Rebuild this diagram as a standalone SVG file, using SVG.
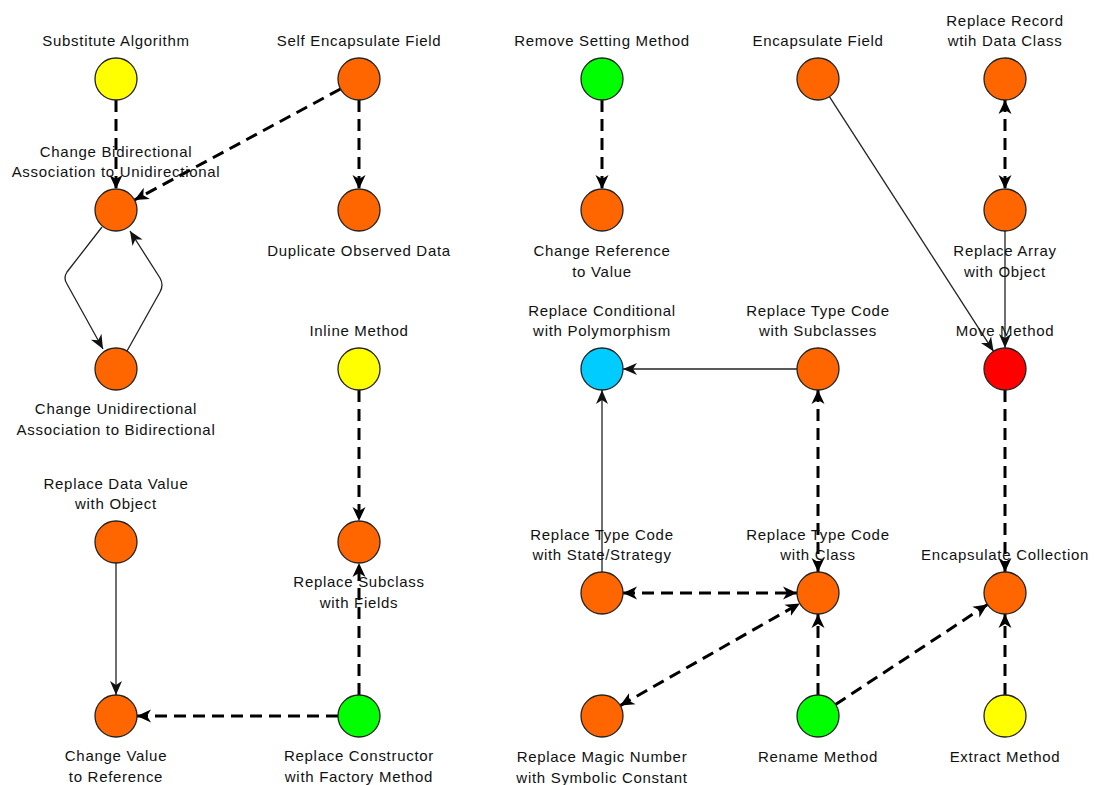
<svg xmlns="http://www.w3.org/2000/svg" width="1094" height="785" viewBox="0 0 1094 785">
  <style>
    text { font-family: "Liberation Sans", Arial, sans-serif; font-size: 15px; letter-spacing: 0.7px; fill: #111; text-anchor: middle; }
    circle { stroke: #222; stroke-width: 1.3; }
    .orange { fill: #FF6600; }
    .yellow { fill: #FFFF00; }
    .green { fill: #00FF00; }
    .blue { fill: #00CCFF; }
    .red { fill: #FF0000; }
    .dep { fill: none; stroke: #000; stroke-width: 3; stroke-dasharray: 12 7; }
    .rel { fill: none; stroke: #222; stroke-width: 1.3; }
  </style>
  <defs>
    <marker id="arrowBold" markerUnits="userSpaceOnUse" markerWidth="16" markerHeight="14" refX="14" refY="6.5" orient="auto-start-reverse" viewBox="0 0 16 13">
      <path d="M0,0 L14,6.5 L0,13 L4,6.5 z" fill="#000"/>
    </marker>
    <marker id="arrowThin" markerUnits="userSpaceOnUse" markerWidth="16" markerHeight="14" refX="14" refY="6" orient="auto-start-reverse" viewBox="0 0 16 12">
      <path d="M0,0 L14,6 L0,12 L4,6 z" fill="#111"/>
    </marker>
  </defs>

  <rect width="1094" height="785" fill="#fff"/>

  <g id="connectors">
    <!-- dashed dependencies -->
    <line class="dep" x1="116" y1="100" x2="116" y2="189" marker-end="url(#arrowBold)"/>
    <line class="dep" x1="340.5" y1="89" x2="134.5" y2="200" marker-end="url(#arrowBold)"/>
    <line class="dep" x1="359" y1="100" x2="359" y2="189" marker-end="url(#arrowBold)"/>
    <line class="dep" x1="359" y1="390" x2="359" y2="521" marker-end="url(#arrowBold)"/>
    <line class="dep" x1="359" y1="695" x2="359" y2="563" marker-end="url(#arrowBold)"/>
    <line class="dep" x1="338" y1="716" x2="137" y2="716" marker-end="url(#arrowBold)"/>
    <line class="dep" x1="602" y1="100" x2="602" y2="189" marker-end="url(#arrowBold)"/>
    <line class="dep" x1="1005" y1="100" x2="1005" y2="189" marker-start="url(#arrowBold)" marker-end="url(#arrowBold)"/>
    <line class="dep" x1="818" y1="390" x2="818" y2="572" marker-start="url(#arrowBold)" marker-end="url(#arrowBold)"/>
    <line class="dep" x1="623" y1="593" x2="797" y2="593" marker-start="url(#arrowBold)" marker-end="url(#arrowBold)"/>
    <line class="dep" x1="620.2" y1="705.6" x2="799.8" y2="603.4" marker-start="url(#arrowBold)" marker-end="url(#arrowBold)"/>
    <line class="dep" x1="818" y1="695" x2="818" y2="614" marker-end="url(#arrowBold)"/>
    <line class="dep" x1="835.5" y1="704.5" x2="987.5" y2="604.5" marker-end="url(#arrowBold)"/>
    <line class="dep" x1="1005" y1="695" x2="1005" y2="614" marker-end="url(#arrowBold)"/>
    <line class="dep" x1="1005" y1="390" x2="1005" y2="572" marker-end="url(#arrowBold)"/>

    <!-- solid relations -->
    <path class="rel" d="M102,227 L67,272 Q63,278 67,284 L103,349" marker-end="url(#arrowThin)"/>
    <path class="rel" d="M127,351 L160,292 Q164,285 160,278 L130,231" marker-end="url(#arrowThin)"/>
    <line class="rel" x1="116" y1="563" x2="116" y2="695" marker-end="url(#arrowThin)"/>
    <line class="rel" x1="829.4" y1="96.6" x2="993.6" y2="351.4" marker-end="url(#arrowThin)"/>
    <line class="rel" x1="1005" y1="231" x2="1005" y2="348" marker-end="url(#arrowThin)"/>
    <line class="rel" x1="797" y1="369" x2="623" y2="369" marker-end="url(#arrowThin)"/>
    <line class="rel" x1="602" y1="572" x2="602" y2="390" marker-end="url(#arrowThin)"/>
  </g>

  <g id="substitute-algorithm">
    <circle class="yellow" cx="116" cy="79" r="21"/>
    <text x="116" y="46">Substitute Algorithm</text>
  </g>
  <g id="self-encapsulate-field">
    <circle class="orange" cx="359" cy="79" r="21"/>
    <text x="359" y="46">Self Encapsulate Field</text>
  </g>
  <g id="change-bidirectional">
    <circle class="orange" cx="116" cy="210" r="21"/>
    <text x="116" y="157">Change Bidirectional</text>
    <text x="116" y="177">Association to Unidirectional</text>
  </g>
  <g id="duplicate-observed-data">
    <circle class="orange" cx="359" cy="210" r="21"/>
    <text x="359" y="256">Duplicate Observed Data</text>
  </g>
  <g id="change-unidirectional">
    <circle class="orange" cx="116" cy="369" r="21"/>
    <text x="116" y="414">Change Unidirectional</text>
    <text x="116" y="435">Association to Bidirectional</text>
  </g>
  <g id="inline-method">
    <circle class="yellow" cx="359" cy="369" r="21"/>
    <text x="359" y="336">Inline Method</text>
  </g>
  <g id="replace-data-value">
    <circle class="orange" cx="116" cy="542" r="21"/>
    <text x="116" y="489">Replace Data Value</text>
    <text x="116" y="509">with Object</text>
  </g>
  <g id="replace-subclass">
    <circle class="orange" cx="359" cy="542" r="21"/>
    <text x="359" y="587">Replace Subclass</text>
    <text x="359" y="608">with Fields</text>
  </g>
  <g id="change-value-to-reference">
    <circle class="orange" cx="116" cy="716" r="21"/>
    <text x="116" y="761">Change Value</text>
    <text x="116" y="782">to Reference</text>
  </g>
  <g id="replace-constructor">
    <circle class="green" cx="359" cy="716" r="21"/>
    <text x="359" y="761">Replace Constructor</text>
    <text x="359" y="782">with Factory Method</text>
  </g>

  <g id="remove-setting-method">
    <circle class="green" cx="602" cy="79" r="21"/>
    <text x="602" y="46">Remove Setting Method</text>
  </g>
  <g id="change-reference-to-value">
    <circle class="orange" cx="602" cy="210" r="21"/>
    <text x="602" y="256">Change Reference</text>
    <text x="602" y="277">to Value</text>
  </g>
  <g id="encapsulate-field">
    <circle class="orange" cx="818" cy="79" r="21"/>
    <text x="818" y="46">Encapsulate Field</text>
  </g>
  <g id="replace-record">
    <circle class="orange" cx="1005" cy="79" r="21"/>
    <text x="1005" y="26">Replace Record</text>
    <text x="1005" y="46">wtih Data Class</text>
  </g>
  <g id="replace-array">
    <circle class="orange" cx="1005" cy="210" r="21"/>
    <text x="1005" y="256">Replace Array</text>
    <text x="1005" y="277">with Object</text>
  </g>
  <g id="replace-conditional">
    <circle class="blue" cx="602" cy="369" r="21"/>
    <text x="602" y="316">Replace Conditional</text>
    <text x="602" y="336">with Polymorphism</text>
  </g>
  <g id="type-code-subclasses">
    <circle class="orange" cx="818" cy="369" r="21"/>
    <text x="818" y="316">Replace Type Code</text>
    <text x="818" y="336">with Subclasses</text>
  </g>
  <g id="move-method">
    <circle class="red" cx="1005" cy="369" r="21"/>
    <text x="1005" y="336">Move Method</text>
  </g>
  <g id="type-code-state-strategy">
    <circle class="orange" cx="602" cy="593" r="21"/>
    <text x="602" y="540">Replace Type Code</text>
    <text x="602" y="560">with State/Strategy</text>
  </g>
  <g id="type-code-class">
    <circle class="orange" cx="818" cy="593" r="21"/>
    <text x="818" y="540">Replace Type Code</text>
    <text x="818" y="560">with Class</text>
  </g>
  <g id="encapsulate-collection">
    <circle class="orange" cx="1005" cy="593" r="21"/>
    <text x="1005" y="560">Encapsulate Collection</text>
  </g>
  <g id="replace-magic-number">
    <circle class="orange" cx="602" cy="716" r="21"/>
    <text x="602" y="762">Replace Magic Number</text>
    <text x="602" y="783">with Symbolic Constant</text>
  </g>
  <g id="rename-method">
    <circle class="green" cx="818" cy="716" r="21"/>
    <text x="818" y="762">Rename Method</text>
  </g>
  <g id="extract-method">
    <circle class="yellow" cx="1005" cy="716" r="21"/>
    <text x="1005" y="762">Extract Method</text>
  </g>
</svg>
